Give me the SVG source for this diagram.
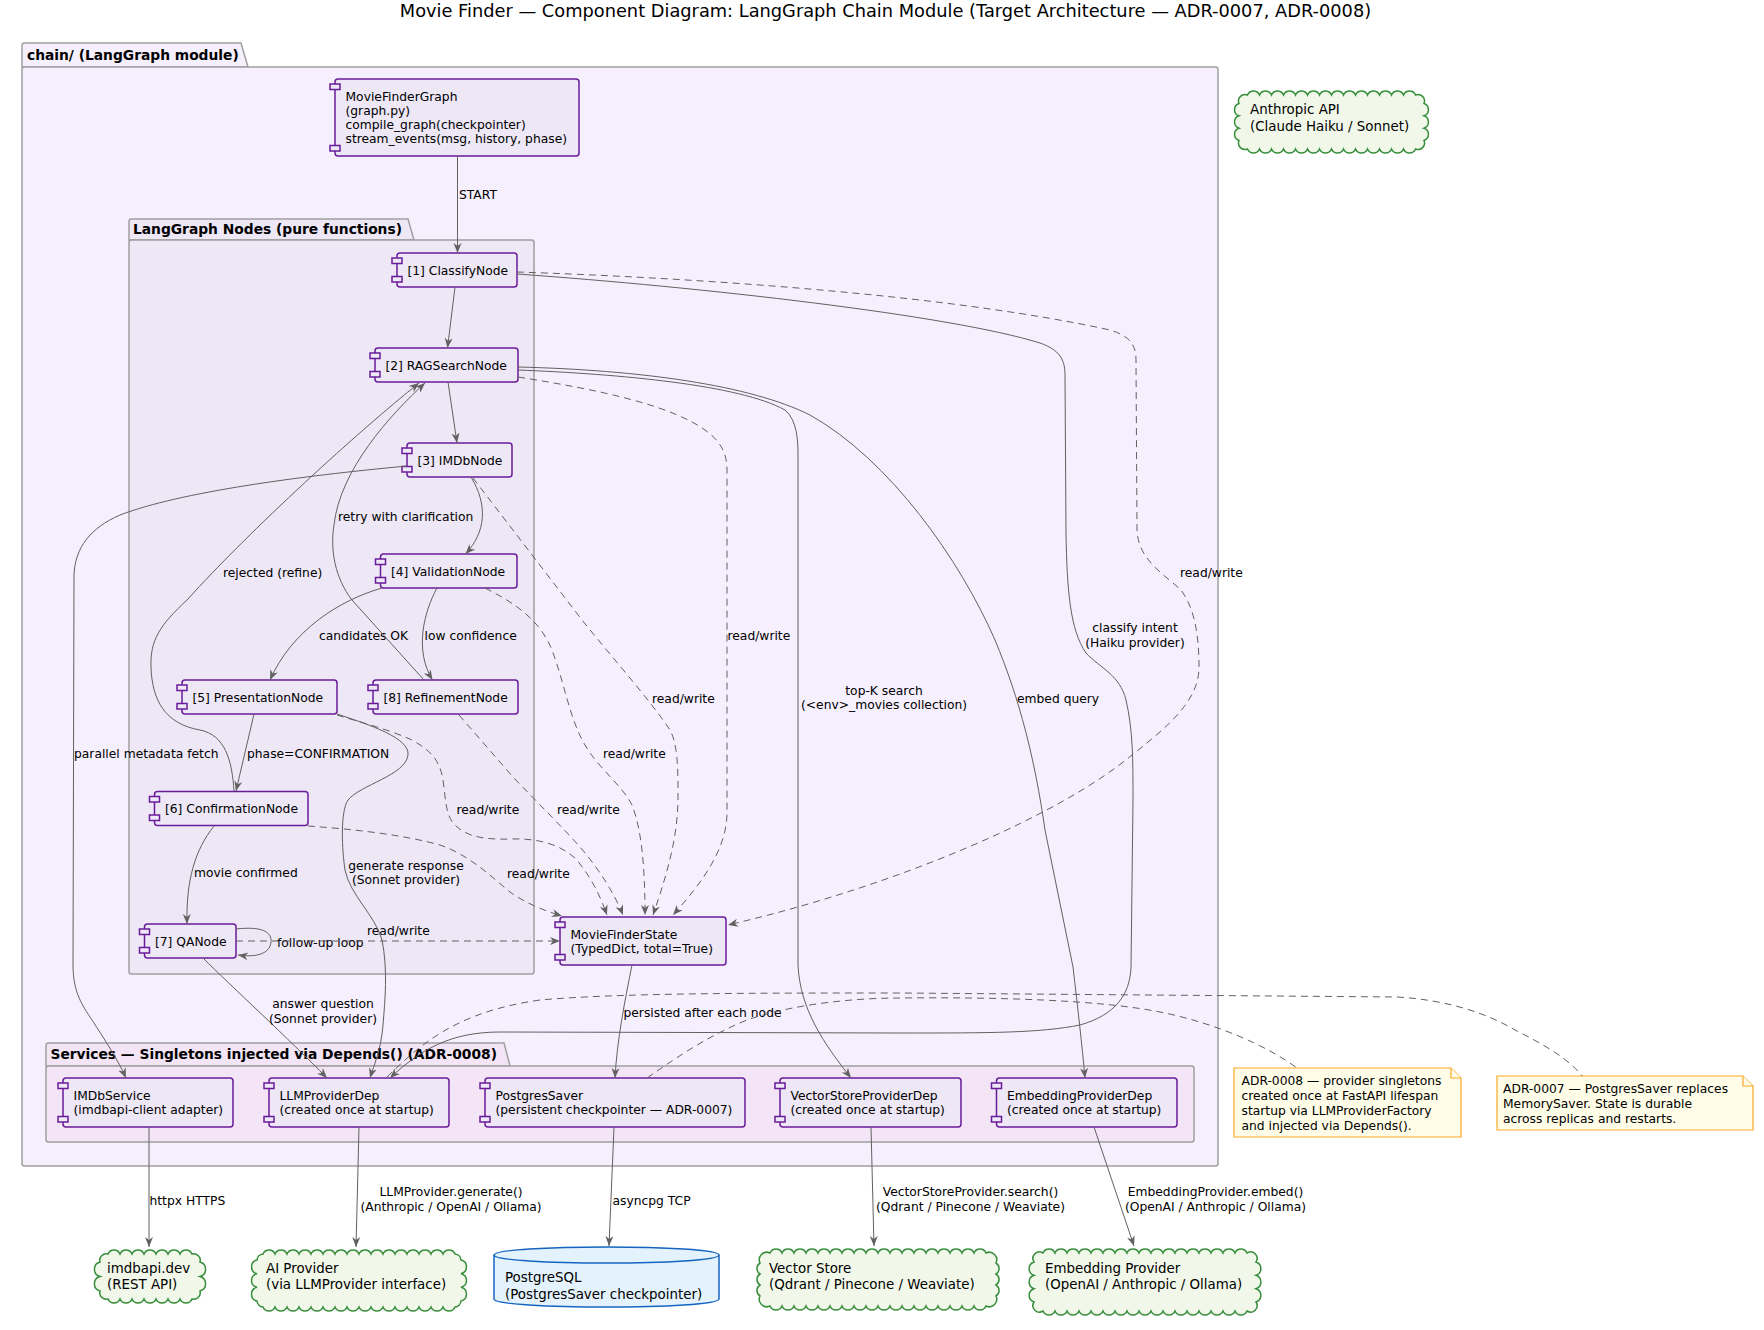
<svg xmlns="http://www.w3.org/2000/svg" width="1764" height="1330" viewBox="0 0 1764 1330">
<defs>
<style>
text{font-family:"DejaVu Sans","Liberation Sans",sans-serif;fill:#000}
.t{font-size:12.3px}
.lb{font-size:12.3px}
.ct{font-size:13.4px}
.pt{font-size:13.8px;font-weight:bold}
.ttl{font-size:17.8px}
.pk{fill:#F6EFFD;stroke:#A0A0A0;stroke-width:1.5}
.pk2{fill:#EDE7F6;stroke:#A0A0A0;stroke-width:1.5}
.pk3{fill:#F3E5F5;stroke:#A0A0A0;stroke-width:1.5}
.cb{fill:#EDE7F6;stroke:#6A1B9A;stroke-width:1.5}
.e{fill:none;stroke:#616161;stroke-width:1}
.d{stroke-dasharray:7 5}
.cl{fill:#F1F8E9;stroke:#388E3C;stroke-width:1.5}
.db{fill:#E3F2FD;stroke:#1565C0;stroke-width:1.5}
.nt{fill:#FFFDE7;stroke:#F9A825;stroke-width:1.2}
</style>
<marker id="ah" viewBox="0 0 10 10" refX="10" refY="5" markerWidth="10" markerHeight="10" markerUnits="userSpaceOnUse" orient="auto">
<path d="M0,1 L10,5 L0,9 L3,5 Z" fill="#616161"/>
</marker>
</defs>
<rect width="1764" height="1330" fill="#FFFFFF"/>
<text class="ttl" x="885.5" y="17" text-anchor="middle">Movie Finder — Component Diagram: LangGraph Chain Module (Target Architecture — ADR-0007, ADR-0008)</text>

<g id="pkg-chain">
<path class="pk" d="M22,67 L22,45.5 Q22,43 24.5,43 L241,43 L248,67 Z"/>
<rect class="pk" x="22" y="67" width="1196" height="1099" rx="2.5"/>
<text class="pt" x="27" y="60">chain/ (LangGraph module)</text>
</g>
<g id="pkg-nodes">
<path class="pk2" d="M129,240 L129,221.5 Q129,219 131.5,219 L408,219 L414,240 Z"/>
<rect class="pk2" x="129" y="240" width="405" height="734" rx="2.5"/>
<text class="pt" x="133" y="234">LangGraph Nodes (pure functions)</text>
</g>
<g id="pkg-services">
<path class="pk3" d="M46,1066 L46,1045.5 Q46,1043 48.5,1043 L504,1043 L510,1066 Z"/>
<rect class="pk3" x="46" y="1066" width="1148" height="76" rx="2.5"/>
<text class="pt" x="50.5" y="1059">Services — Singletons injected via Depends() (ADR-0008)</text>
</g>

<g id="n-graph"><rect class="cb" x="335" y="79" width="244" height="77" rx="3"/><rect class="cb" x="330" y="84" width="10" height="5.5"/><rect class="cb" x="330" y="145.5" width="10" height="5.5"/>
<text class="t" x="345.5" y="101">MovieFinderGraph</text><text class="t" x="345.5" y="115">(graph.py)</text><text class="t" x="345.5" y="129">compile_graph(checkpointer)</text><text class="t" x="345.5" y="143">stream_events(msg, history, phase)</text></g>
<g id="n-classify"><rect class="cb" x="397" y="253" width="120" height="34" rx="3"/><rect class="cb" x="392" y="258" width="10" height="5.5"/><rect class="cb" x="392" y="276.5" width="10" height="5.5"/><text class="t" x="407.5" y="274.5">[1] ClassifyNode</text></g>
<g id="n-rag"><rect class="cb" x="375" y="348" width="143" height="34" rx="3"/><rect class="cb" x="370" y="353" width="10" height="5.5"/><rect class="cb" x="370" y="371.5" width="10" height="5.5"/><text class="t" x="385.5" y="369.5">[2] RAGSearchNode</text></g>
<g id="n-imdb"><rect class="cb" x="407" y="443" width="105" height="34" rx="3"/><rect class="cb" x="402" y="448" width="10" height="5.5"/><rect class="cb" x="402" y="466.5" width="10" height="5.5"/><text class="t" x="417.5" y="464.5">[3] IMDbNode</text></g>
<g id="n-validation"><rect class="cb" x="380.5" y="554" width="136.5" height="34" rx="3"/><rect class="cb" x="375.5" y="559" width="10" height="5.5"/><rect class="cb" x="375.5" y="577.5" width="10" height="5.5"/><text class="t" x="391" y="575.5">[4] ValidationNode</text></g>
<g id="n-presentation"><rect class="cb" x="182" y="680" width="155" height="34" rx="3"/><rect class="cb" x="177" y="685" width="10" height="5.5"/><rect class="cb" x="177" y="703.5" width="10" height="5.5"/><text class="t" x="192.5" y="701.5">[5] PresentationNode</text></g>
<g id="n-refinement"><rect class="cb" x="373" y="680" width="145" height="34" rx="3"/><rect class="cb" x="368" y="685" width="10" height="5.5"/><rect class="cb" x="368" y="703.5" width="10" height="5.5"/><text class="t" x="383.5" y="701.5">[8] RefinementNode</text></g>
<g id="n-confirmation"><rect class="cb" x="154.5" y="791.5" width="153.5" height="34" rx="3"/><rect class="cb" x="149.5" y="796.5" width="10" height="5.5"/><rect class="cb" x="149.5" y="815" width="10" height="5.5"/><text class="t" x="165" y="812.5">[6] ConfirmationNode</text></g>
<g id="n-qa"><rect class="cb" x="144.5" y="924" width="91.5" height="34" rx="3"/><rect class="cb" x="139.5" y="929" width="10" height="5.5"/><rect class="cb" x="139.5" y="947.5" width="10" height="5.5"/><text class="t" x="155" y="945.5">[7] QANode</text></g>
<g id="n-state"><rect class="cb" x="560" y="917" width="166" height="48" rx="3"/><rect class="cb" x="555" y="922" width="10" height="5.5"/><rect class="cb" x="555" y="954.5" width="10" height="5.5"/><text class="t" x="570.5" y="938.5">MovieFinderState</text><text class="t" x="570.5" y="952.5">(TypedDict, total=True)</text></g>

<g id="n-imdbservice"><rect class="cb" x="63" y="1078" width="170" height="49" rx="3"/><rect class="cb" x="58" y="1083" width="10" height="5.5"/><rect class="cb" x="58" y="1116.5" width="10" height="5.5"/><text class="t" x="73.5" y="1100">IMDbService</text><text class="t" x="73.5" y="1114">(imdbapi-client adapter)</text></g>
<g id="n-llmdep"><rect class="cb" x="269" y="1078" width="180" height="49" rx="3"/><rect class="cb" x="264" y="1083" width="10" height="5.5"/><rect class="cb" x="264" y="1116.5" width="10" height="5.5"/><text class="t" x="279.5" y="1100">LLMProviderDep</text><text class="t" x="279.5" y="1114">(created once at startup)</text></g>
<g id="n-postgressaver"><rect class="cb" x="485" y="1078" width="260" height="49" rx="3"/><rect class="cb" x="480" y="1083" width="10" height="5.5"/><rect class="cb" x="480" y="1116.5" width="10" height="5.5"/><text class="t" x="495.5" y="1100">PostgresSaver</text><text class="t" x="495.5" y="1114">(persistent checkpointer — ADR-0007)</text></g>
<g id="n-vectordep"><rect class="cb" x="780" y="1078" width="181" height="49" rx="3"/><rect class="cb" x="775" y="1083" width="10" height="5.5"/><rect class="cb" x="775" y="1116.5" width="10" height="5.5"/><text class="t" x="790.5" y="1100">VectorStoreProviderDep</text><text class="t" x="790.5" y="1114">(created once at startup)</text></g>
<g id="n-embeddep"><rect class="cb" x="996.5" y="1078" width="180.5" height="49" rx="3"/><rect class="cb" x="991.5" y="1083" width="10" height="5.5"/><rect class="cb" x="991.5" y="1116.5" width="10" height="5.5"/><text class="t" x="1007" y="1100">EmbeddingProviderDep</text><text class="t" x="1007" y="1114">(created once at startup)</text></g>

<g id="n-anthropic"><path class="cl" d="M1247.5,95 a6.5,6.5 0 0 1 12,0 a6.5,6.5 0 0 1 12,0 a6.5,6.5 0 0 1 12,0 a6.5,6.5 0 0 1 12,0 a6.5,6.5 0 0 1 12,0 a6.5,6.5 0 0 1 12,0 a6.5,6.5 0 0 1 12,0 a6.5,6.5 0 0 1 12,0 a6.5,6.5 0 0 1 12,0 a6.5,6.5 0 0 1 12,0 a6.5,6.5 0 0 1 12,0 a6.5,6.5 0 0 1 12,0 a6.5,6.5 0 0 1 12,0 a6.5,6.5 0 0 1 12,0 a6.5,6.5 0 0 1 8.5,8.5 a6.5,6.5 0 0 1 0,12.333 a6.5,6.5 0 0 1 0,12.333 a6.5,6.5 0 0 1 0,12.334 a6.5,6.5 0 0 1 -8.5,8.5 a6.5,6.5 0 0 1 -12,0 a6.5,6.5 0 0 1 -12,0 a6.5,6.5 0 0 1 -12,0 a6.5,6.5 0 0 1 -12,0 a6.5,6.5 0 0 1 -12,0 a6.5,6.5 0 0 1 -12,0 a6.5,6.5 0 0 1 -12,0 a6.5,6.5 0 0 1 -12,0 a6.5,6.5 0 0 1 -12,0 a6.5,6.5 0 0 1 -12,0 a6.5,6.5 0 0 1 -12,0 a6.5,6.5 0 0 1 -12,0 a6.5,6.5 0 0 1 -12,0 a6.5,6.5 0 0 1 -12,0 a6.5,6.5 0 0 1 -8.5,-8.5 a6.5,6.5 0 0 1 0,-12.333 a6.5,6.5 0 0 1 0,-12.333 a6.5,6.5 0 0 1 0,-12.334 a6.5,6.5 0 0 1 8.5,-8.5 Z"/>
<text class="ct" x="1250" y="114">Anthropic API</text><text class="ct" x="1250" y="131">(Claude Haiku / Sonnet)</text></g>

<g id="n-imdbapi"><path class="cl" d="M108,1254 a6.5,6.5 0 0 1 12,0 a6.5,6.5 0 0 1 12,0 a6.5,6.5 0 0 1 12,0 a6.5,6.5 0 0 1 12,0 a6.5,6.5 0 0 1 12,0 a6.5,6.5 0 0 1 12,0 a6.5,6.5 0 0 1 12,0 a6.5,6.5 0 0 1 8,8 a7.5,7.5 0 0 1 0,14.5 a7.5,7.5 0 0 1 0,14.5 a6.5,6.5 0 0 1 -8,8 a6.5,6.5 0 0 1 -12,0 a6.5,6.5 0 0 1 -12,0 a6.5,6.5 0 0 1 -12,0 a6.5,6.5 0 0 1 -12,0 a6.5,6.5 0 0 1 -12,0 a6.5,6.5 0 0 1 -12,0 a6.5,6.5 0 0 1 -12,0 a6.5,6.5 0 0 1 -8,-8 a7.5,7.5 0 0 1 0,-14.5 a7.5,7.5 0 0 1 0,-14.5 a6.5,6.5 0 0 1 8,-8 Z"/>
<text class="ct" x="107" y="1273">imdbapi.dev</text><text class="ct" x="107" y="1289">(REST API)</text></g>

<g id="n-aiprovider"><path class="cl" d="M263,1254 a6.5,6.5 0 0 1 12,0 a6.5,6.5 0 0 1 12,0 a6.5,6.5 0 0 1 12,0 a6.5,6.5 0 0 1 12,0 a6.5,6.5 0 0 1 12,0 a6.5,6.5 0 0 1 12,0 a6.5,6.5 0 0 1 12,0 a6.5,6.5 0 0 1 12,0 a6.5,6.5 0 0 1 12,0 a6.5,6.5 0 0 1 12,0 a6.5,6.5 0 0 1 12,0 a6.5,6.5 0 0 1 12,0 a6.5,6.5 0 0 1 12,0 a6.5,6.5 0 0 1 12,0 a6.5,6.5 0 0 1 12,0 a6.5,6.5 0 0 1 12,0 a6.5,6.5 0 0 1 6,6 a7,7 0 0 1 0,13.667 a7,7 0 0 1 0,13.667 a7,7 0 0 1 0,13.666 a6.5,6.5 0 0 1 -6,6 a6.5,6.5 0 0 1 -12,0 a6.5,6.5 0 0 1 -12,0 a6.5,6.5 0 0 1 -12,0 a6.5,6.5 0 0 1 -12,0 a6.5,6.5 0 0 1 -12,0 a6.5,6.5 0 0 1 -12,0 a6.5,6.5 0 0 1 -12,0 a6.5,6.5 0 0 1 -12,0 a6.5,6.5 0 0 1 -12,0 a6.5,6.5 0 0 1 -12,0 a6.5,6.5 0 0 1 -12,0 a6.5,6.5 0 0 1 -12,0 a6.5,6.5 0 0 1 -12,0 a6.5,6.5 0 0 1 -12,0 a6.5,6.5 0 0 1 -12,0 a6.5,6.5 0 0 1 -12,0 a6.5,6.5 0 0 1 -6,-6 a7,7 0 0 1 0,-13.667 a7,7 0 0 1 0,-13.667 a7,7 0 0 1 0,-13.666 a6.5,6.5 0 0 1 6,-6 Z"/>
<text class="ct" x="266" y="1273">AI Provider</text><text class="ct" x="266" y="1289">(via LLMProvider interface)</text></g>

<g id="n-postgresql"><path class="db" d="M494,1255 C494,1244.3 719,1244.3 719,1255 L719,1299 C719,1309.7 494,1309.7 494,1299 Z"/><path class="db" fill="none" d="M494,1255 C494,1265.7 719,1265.7 719,1255"/>
<text class="ct" x="505" y="1282">PostgreSQL</text><text class="ct" x="505" y="1299">(PostgresSaver checkpointer)</text></g>

<g id="n-vectorstore"><path class="cl" d="M770,1253 a6.5,6.5 0 0 1 12,0 a6.5,6.5 0 0 1 12,0 a6.5,6.5 0 0 1 12,0 a6.5,6.5 0 0 1 12,0 a6.5,6.5 0 0 1 12,0 a6.5,6.5 0 0 1 12,0 a6.5,6.5 0 0 1 12,0 a6.5,6.5 0 0 1 12,0 a6.5,6.5 0 0 1 12,0 a6.5,6.5 0 0 1 12,0 a6.5,6.5 0 0 1 12,0 a6.5,6.5 0 0 1 12,0 a6.5,6.5 0 0 1 12,0 a6.5,6.5 0 0 1 12,0 a6.5,6.5 0 0 1 12,0 a6.5,6.5 0 0 1 12,0 a6.5,6.5 0 0 1 12,0 a6.5,6.5 0 0 1 12,0 a7.5,7.5 0 0 1 10,10 a6.5,6.5 0 0 1 0,11 a6.5,6.5 0 0 1 0,11 a6.5,6.5 0 0 1 0,11 a7.5,7.5 0 0 1 -10,10 a6.5,6.5 0 0 1 -12,0 a6.5,6.5 0 0 1 -12,0 a6.5,6.5 0 0 1 -12,0 a6.5,6.5 0 0 1 -12,0 a6.5,6.5 0 0 1 -12,0 a6.5,6.5 0 0 1 -12,0 a6.5,6.5 0 0 1 -12,0 a6.5,6.5 0 0 1 -12,0 a6.5,6.5 0 0 1 -12,0 a6.5,6.5 0 0 1 -12,0 a6.5,6.5 0 0 1 -12,0 a6.5,6.5 0 0 1 -12,0 a6.5,6.5 0 0 1 -12,0 a6.5,6.5 0 0 1 -12,0 a6.5,6.5 0 0 1 -12,0 a6.5,6.5 0 0 1 -12,0 a6.5,6.5 0 0 1 -12,0 a6.5,6.5 0 0 1 -12,0 a7.5,7.5 0 0 1 -10,-10 a6.5,6.5 0 0 1 0,-11 a6.5,6.5 0 0 1 0,-11 a6.5,6.5 0 0 1 0,-11 a7.5,7.5 0 0 1 10,-10 Z"/>
<text class="ct" x="769" y="1273">Vector Store</text><text class="ct" x="769" y="1289">(Qdrant / Pinecone / Weaviate)</text></g>

<g id="n-embedprovider"><path class="cl" d="M1043,1253 a6.5,6.5 0 0 1 12,0 a6.5,6.5 0 0 1 12,0 a6.5,6.5 0 0 1 12,0 a6.5,6.5 0 0 1 12,0 a6.5,6.5 0 0 1 12,0 a6.5,6.5 0 0 1 12,0 a6.5,6.5 0 0 1 12,0 a6.5,6.5 0 0 1 12,0 a6.5,6.5 0 0 1 12,0 a6.5,6.5 0 0 1 12,0 a6.5,6.5 0 0 1 12,0 a6.5,6.5 0 0 1 12,0 a6.5,6.5 0 0 1 12,0 a6.5,6.5 0 0 1 12,0 a6.5,6.5 0 0 1 12,0 a6.5,6.5 0 0 1 12,0 a6.5,6.5 0 0 1 12,0 a6.5,6.5 0 0 1 9,9 a7,7 0 0 1 0,13.333 a7,7 0 0 1 0,13.333 a7,7 0 0 1 0,13.334 a6.5,6.5 0 0 1 -9,9 a6.5,6.5 0 0 1 -12,0 a6.5,6.5 0 0 1 -12,0 a6.5,6.5 0 0 1 -12,0 a6.5,6.5 0 0 1 -12,0 a6.5,6.5 0 0 1 -12,0 a6.5,6.5 0 0 1 -12,0 a6.5,6.5 0 0 1 -12,0 a6.5,6.5 0 0 1 -12,0 a6.5,6.5 0 0 1 -12,0 a6.5,6.5 0 0 1 -12,0 a6.5,6.5 0 0 1 -12,0 a6.5,6.5 0 0 1 -12,0 a6.5,6.5 0 0 1 -12,0 a6.5,6.5 0 0 1 -12,0 a6.5,6.5 0 0 1 -12,0 a6.5,6.5 0 0 1 -12,0 a6.5,6.5 0 0 1 -12,0 a6.5,6.5 0 0 1 -9,-9 a7,7 0 0 1 0,-13.333 a7,7 0 0 1 0,-13.333 a7,7 0 0 1 0,-13.334 a6.5,6.5 0 0 1 9,-9 Z"/>
<text class="ct" x="1045" y="1273">Embedding Provider</text><text class="ct" x="1045" y="1289">(OpenAI / Anthropic / Ollama)</text></g>

<g id="n-note-adr0008"><path class="nt" d="M1234,1068 L1451,1068 L1461,1078 L1461,1137 L1234,1137 Z"/><path class="nt" d="M1451,1068 L1451,1078 L1461,1078"/>
<text class="t" x="1241.5" y="1085">ADR-0008 — provider singletons</text><text class="t" x="1241.5" y="1100">created once at FastAPI lifespan</text><text class="t" x="1241.5" y="1115">startup via LLMProviderFactory</text><text class="t" x="1241.5" y="1130">and injected via Depends().</text></g>
<g id="n-note-adr0007"><path class="nt" d="M1497,1076 L1743,1076 L1753,1086 L1753,1130 L1497,1130 Z"/><path class="nt" d="M1743,1076 L1743,1086 L1753,1086"/>
<text class="t" x="1503" y="1093">ADR-0007 — PostgresSaver replaces</text><text class="t" x="1503" y="1108">MemorySaver. State is durable</text><text class="t" x="1503" y="1123">across replicas and restarts.</text></g>

<g id="connectors">
<path class="e" marker-end="url(#ah)" d="M457.5,156 L457.5,253"/>
<text class="lb" x="459" y="198.5">START</text>
<path class="e" marker-end="url(#ah)" d="M455,287 L447.5,348"/>
<path class="e" marker-end="url(#ah)" d="M448,382 L457,443"/>
<path class="e" marker-end="url(#ah)" d="M471,477 C488,505 486,532 465.5,554"/>
<path class="e" marker-end="url(#ah)" d="M382,588 C340,600 292,630 270,680"/>
<text class="lb" x="319" y="639.5">candidates OK</text>
<path class="e" marker-end="url(#ah)" d="M437,588 C424,612 414,650 432.5,680"/>
<text class="lb" x="424.5" y="639.5">low confidence</text>
<path class="e" marker-end="url(#ah)" d="M424,680 L352,600 C335,578 330,550 334,525 C340,470 390,415 425,383"/>
<text class="lb" x="338" y="520.5">retry with clarification</text>
<path class="e" marker-end="url(#ah)" d="M234,791 C232,760 225,735 200,730 C165,724 152,700 151,667 C150,640 160,625 187,600 C250,530 360,430 419,383"/>
<text class="lb" x="223" y="576.5">rejected (refine)</text>
<path class="e" marker-end="url(#ah)" d="M254,714 L236,791"/>
<text class="lb" x="247" y="757.5">phase=CONFIRMATION</text>
<path class="e" marker-end="url(#ah)" d="M214,826 C195,850 186,880 187,924"/>
<text class="lb" x="194" y="876.5">movie confirmed</text>
<path class="e" marker-end="url(#ah)" d="M236,929 C262,926 272,932 271,942 C270,952 260,958 238,955"/>
<text class="lb" x="277" y="946.5">follow-up loop</text>
<path class="e d" marker-end="url(#ah)" d="M236,941 L560,941"/>
<text class="lb" x="367" y="935">read/write</text>
<path class="e" marker-end="url(#ah)" d="M203,958 C230,985 290,1040 327,1078"/>
<text class="lb" x="323" y="1008" text-anchor="middle">answer question</text>
<text class="lb" x="323" y="1022.5" text-anchor="middle">(Sonnet provider)</text>
<path class="e" marker-end="url(#ah)" d="M337,714 C370,725 410,738 408,755 C406,775 360,785 348,800 C340,812 342,850 345,870 C350,895 375,915 382,940 C388,970 385,1000 383,1025 C381,1050 374,1065 370,1078"/>
<text class="lb" x="406" y="869.5" text-anchor="middle">generate response</text>
<text class="lb" x="406" y="884" text-anchor="middle">(Sonnet provider)</text>
<path class="e" marker-end="url(#ah)" d="M517,274 C700,287 950,315 1040,343 C1060,350 1065,360 1065,375 L1066,533 C1067,590 1070,630 1086,653 C1100,668 1120,675 1126,700 C1133,730 1133,760 1133,800 L1131,967 C1130,995 1115,1015 1080,1025 C1040,1033 990,1033 900,1033 L500,1032 C450,1032 420,1050 390,1078"/>
<text class="lb" x="1135" y="632" text-anchor="middle">classify intent</text>
<text class="lb" x="1135" y="646.5" text-anchor="middle">(Haiku provider)</text>
<path class="e d" marker-end="url(#ah)" d="M517,272 C700,278 950,295 1110,330 C1130,336 1136,345 1136,360 L1137,530 C1138,560 1165,575 1181,590 C1196,610 1199,640 1199,667 C1199,700 1170,725 1132,755 C1060,815 900,885 728,925"/>
<text class="lb" x="1180" y="577">read/write</text>
<path class="e" marker-end="url(#ah)" d="M518,370 C620,374 740,385 785,410 C797,420 798,440 798,455 L798,965 C800,1010 825,1045 851,1078"/>
<text class="lb" x="884" y="694.5" text-anchor="middle">top-K search</text>
<text class="lb" x="884" y="709" text-anchor="middle">(&lt;env&gt;_movies collection)</text>
<path class="e" marker-end="url(#ah)" d="M518,367 C640,370 750,385 810,415 C890,460 960,560 995,640 C1020,700 1035,760 1045,830 L1073,967 C1078,1010 1082,1045 1085,1078"/>
<text class="lb" x="1017" y="702.5">embed query</text>
<path class="e d" marker-end="url(#ah)" d="M518,377 C600,390 670,405 705,430 C722,442 727,455 727,470 L727,813 C727,850 700,885 673,915"/>
<text class="lb" x="727.5" y="639.5">read/write</text>
<path class="e d" marker-end="url(#ah)" d="M473,478 L582,620 C610,655 650,700 670,730 C678,745 678,770 678,797 C678,840 665,880 653,915"/>
<text class="lb" x="652" y="702.5">read/write</text>
<path class="e d" marker-end="url(#ah)" d="M485,588 C515,603 540,620 552,650 C565,685 570,720 585,745 C598,768 622,785 632,805 C642,830 645,870 645,915"/>
<text class="lb" x="603" y="757.5">read/write</text>
<path class="e d" marker-end="url(#ah)" d="M459,715 L513,777 C540,805 565,830 580,847 C600,870 615,895 623,915"/>
<text class="lb" x="557" y="813.5">read/write</text>
<path class="e d" marker-end="url(#ah)" d="M337,715 C360,722 390,730 412,740 C430,750 440,760 443,780 C446,800 445,815 455,825 C465,835 480,840 510,839 C540,838 560,845 575,858 C590,875 600,895 607,915"/>
<text class="lb" x="456.5" y="813.5">read/write</text>
<path class="e d" marker-end="url(#ah)" d="M308,826 C350,829 400,834 440,845 C470,855 495,880 510,892 C525,903 545,911 562,916"/>
<text class="lb" x="507" y="877.5">read/write</text>
<path class="e" marker-end="url(#ah)" d="M407,466 C300,476 180,492 120,515 C90,528 75,548 74,575 L73,965 C73,992 82,1005 92,1020 C105,1040 118,1060 126,1078"/>
<text class="lb" x="74" y="757.5">parallel metadata fetch</text>
<path class="e" marker-end="url(#ah)" d="M632,965 C625,1000 617,1040 615,1078"/>
<text class="lb" x="623.5" y="1016.5">persisted after each node</text>
<path class="e" marker-end="url(#ah)" d="M149,1127 L149,1247"/>
<text class="lb" x="149.5" y="1204.5">httpx HTTPS</text>
<path class="e" marker-end="url(#ah)" d="M359,1127 L356,1247"/>
<text class="lb" x="451" y="1196" text-anchor="middle">LLMProvider.generate()</text>
<text class="lb" x="451" y="1210.5" text-anchor="middle">(Anthropic / OpenAI / Ollama)</text>
<path class="e" marker-end="url(#ah)" d="M614,1127 L609,1246"/>
<text class="lb" x="612.5" y="1204.5">asyncpg TCP</text>
<path class="e" marker-end="url(#ah)" d="M871,1127 L874,1246"/>
<text class="lb" x="970.5" y="1196" text-anchor="middle">VectorStoreProvider.search()</text>
<text class="lb" x="970.5" y="1210.5" text-anchor="middle">(Qdrant / Pinecone / Weaviate)</text>
<path class="e" marker-end="url(#ah)" d="M1094,1127 L1134,1246"/>
<text class="lb" x="1215.5" y="1196" text-anchor="middle">EmbeddingProvider.embed()</text>
<text class="lb" x="1215.5" y="1210.5" text-anchor="middle">(OpenAI / Anthropic / Ollama)</text>
<path class="e d" d="M387,1077 C420,1045 455,1012 540,1000 C620,993 750,993 900,993 L1397,997 C1450,1000 1490,1015 1515,1030 C1545,1045 1570,1060 1582,1076"/>
<path class="e d" d="M647,1078 C680,1055 710,1035 747,1020 C790,1005 850,998 900,998 C1000,997 1100,1000 1160,1012 C1220,1024 1270,1048 1297,1068"/>
</g>
</svg>
